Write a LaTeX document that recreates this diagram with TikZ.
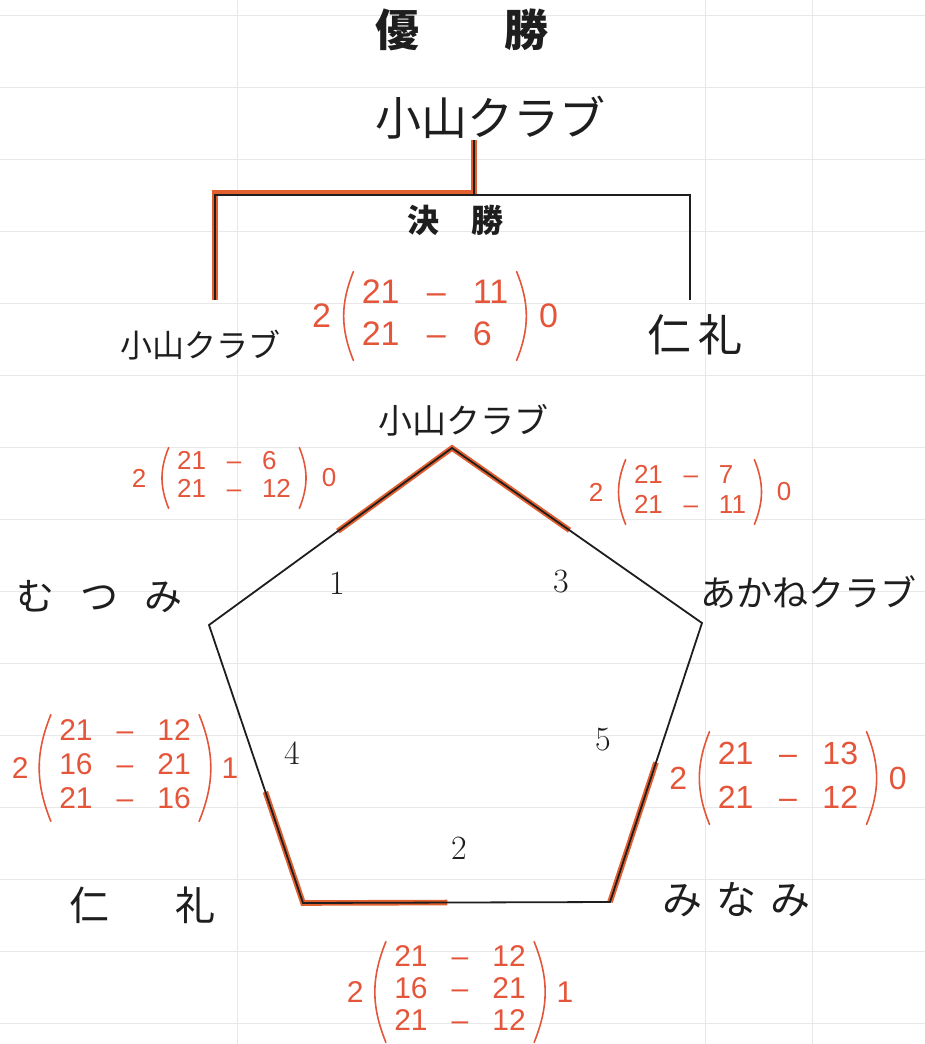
\documentclass[tikz,border=0pt]{standalone}
\usepackage{fontspec}
\usetikzlibrary{calc,positioning}
\newfontfamily\jp{Noto Sans CJK JP}
\newfontfamily\hand{Liberation Sans}
\definecolor{Ink}{HTML}{1E1E1E}
\definecolor{Pen}{HTML}{E4553A}
\definecolor{Marker}{HTML}{E25F30}
\definecolor{Faint}{HTML}{E8E8E8}
\newcommand{\tallyat}[6]{%
  \node[score, font=#3] (#1) at (#2) {\begin{tabular}{@{}r@{\hspace{.8em}\textendash\hspace{.8em}}l@{}}#4\end{tabular}};
  \node[score, font=#3, left=15pt of #1] (#1w) {#5};
  \node[score, font=#3, right=15pt of #1] (#1l) {#6};
  \draw[paren] ([xshift=-4pt,yshift=1pt]#1.north west) to[bend right=22] ([xshift=-4pt,yshift=-1pt]#1.south west);
  \draw[paren] ([xshift=4pt,yshift=1pt]#1.north east) to[bend left=22] ([xshift=4pt,yshift=-1pt]#1.south east);
}

\begin{document}
\begin{tikzpicture}[x=0.5pt, y=-0.5pt, every node/.style={inner sep=0pt, text=Ink}]
  \tikzstyle{faint}=[draw=Faint, line width=0.5pt]
  \tikzstyle{team}=[font=\jp\fontsize{18}{18}\selectfont]
  \tikzstyle{scrawl}=[font=\jp\fontsize{16}{16}\selectfont]
  \tikzstyle{score}=[text=Pen, font=\hand\fontsize{14}{14}\selectfont]
  \tikzstyle{paren}=[draw=Pen, line width=0.8pt, line cap=round]
  \tikzstyle{bracket}=[draw=Ink, line width=1.4pt]
  \tikzstyle{rim}=[draw=Ink, line width=0.9pt, line join=miter]
  \tikzstyle{hilite}=[draw=Marker, line width=2.8pt]
  \tikzstyle{gamenum}=[font=\fontsize{17}{17}\selectfont]

  \useasboundingbox (0,0) rectangle (925,1044);
  \fill[white] (0,0) rectangle (925,1044);
  \foreach \gy in {15,87,...,1023} \draw[faint] (0,\gy) -- (925,\gy);
  \foreach \gx in {237,705,812} \draw[faint] (\gx,0) -- (\gx,1044);

  \node[font=\jp\bfseries\fontsize{22}{22}\selectfont] (title) at (462,30) {優\hspace{43pt}勝};
  \node[scrawl, font=\jp\fontsize{23}{23}\selectfont] (champ) at (490,118) {小山クラブ};

  \coordinate (stem) at (474,140);
  \coordinate (joint) at (474,195);
  \coordinate (fl) at (215,300);
  \coordinate (fr) at (690,300);
  \draw[hilite] (stem) -- ([yshift=1pt]joint) -| (fl);
  \draw[bracket] (fl) |- (joint) -| (fr);
  \draw[bracket] (joint) -- (stem);

  \node[font=\jp\bfseries\fontsize{16}{16}\selectfont] (final) at (455,220) {決\hspace{16pt}勝};
  \node[scrawl] (finL) at (200,345) {小山クラブ};
  \node[scrawl, font=\jp\fontsize{22}{22}\selectfont] (finR) at (695,335) {仁\,礼};
  \tallyat{sF}{435,316}{\hand\fontsize{17}{21}\selectfont}{21 & 11\\21 & 6}{2}{0}

  \coordinate (pT) at (452,448);
  \coordinate (pR) at (702,623);
  \coordinate (pBR) at (610,902);
  \coordinate (pBL) at (303,903);
  \coordinate (pL) at (209,625);
  \draw[hilite] ($(pT)!.47!(pL)$) -- (pT) -- ($(pT)!.47!(pR)$);
  \draw[hilite] ($(pBL)!.4!(pL)$) -- (pBL) -- ($(pBL)!.47!(pBR)$);
  \draw[hilite] ($(pBR)!.5!(pR)$) -- (pBR);
  \draw[rim] (pT) -- (pR) -- (pBR) -- (pBL) -- (pL) -- cycle;

  \node[team, font=\jp\fontsize{17}{17}\selectfont] (oyama) at (463,420) {小山クラブ};
  \node[team, font=\jp\fontsize{19}{19}\selectfont] (mutsumi) at (100,597) {む\hspace{13pt}つ\hspace{13pt}み};
  \node[team] (akane) at (808,592) {あかねクラブ};
  \node[team, font=\jp\fontsize{20}{20}\selectfont] (nirei) at (142,905) {仁\hspace{33pt}礼};
  \node[team, font=\jp\fontsize{20}{20}\selectfont] (minami) at (736,900) {み\hspace{7pt}な\hspace{7pt}み};

  \node[gamenum] (g1) at (337,583) {1};
  \node[gamenum] (g2) at (459,848) {2};
  \node[gamenum] (g3) at (561,582) {3};
  \node[gamenum] (g4) at (292,753) {4};
  \node[gamenum] (g5) at (603,740) {5};

  \tallyat{s1}{234,478}{\hand\fontsize{13}{14}\selectfont}{21 & 6\\21 & 12}{2}{0}
  \tallyat{s3}{690,492}{\hand\fontsize{13}{15}\selectfont}{21 & 7\\21 & 11}{2}{0}
  \tallyat{s4}{125,768}{\hand\fontsize{15}{17}\selectfont}{21 & 12\\16 & 21\\21 & 16}{2}{1}
  \tallyat{s5}{788,778}{\hand\fontsize{16}{22}\selectfont}{21 & 13\\21 & 12}{2}{0}
  \tallyat{s2}{460,992}{\hand\fontsize{15}{16}\selectfont}{21 & 12\\16 & 21\\21 & 12}{2}{1}
\end{tikzpicture}
\end{document}
